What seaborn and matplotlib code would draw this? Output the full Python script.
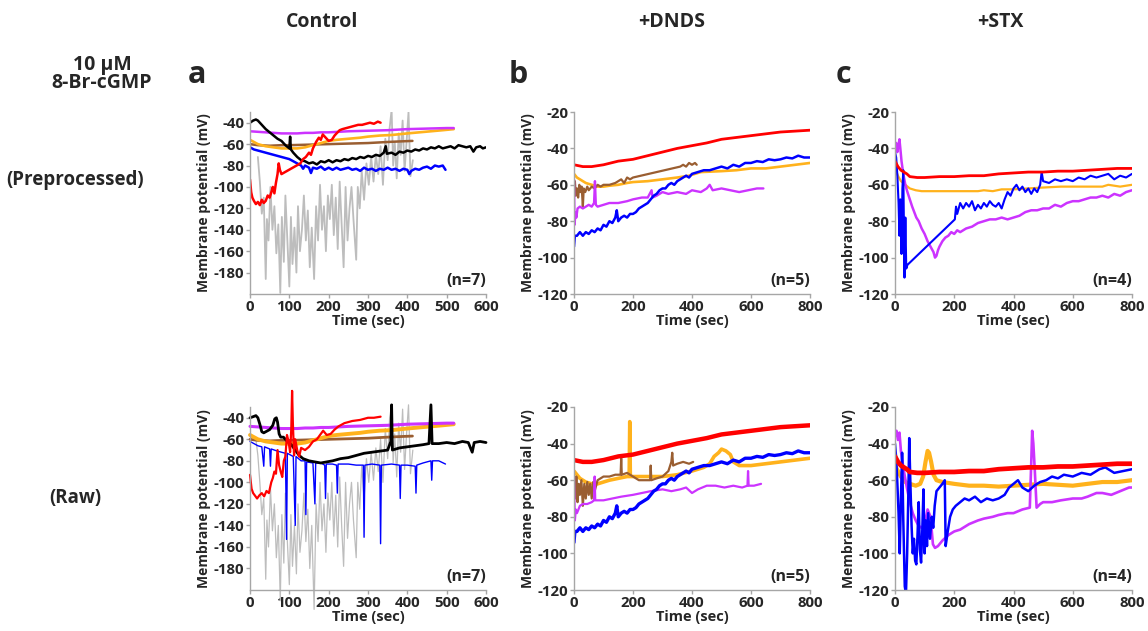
import numpy as np
import pandas as pd
import matplotlib
matplotlib.use("Agg")
import matplotlib.pyplot as plt
import seaborn as sns

sns.set_theme(style="white")
plt.rcParams['font.family'] = ['Open Sans', 'DejaVu Sans']
plt.rcParams['font.weight'] = 'bold'
plt.rcParams['axes.unicode_minus'] = False

# ---------------- data (time s, membrane potential mV) ----------------
# Panel a, preprocessed (Control)
A_GRAY = [(20,-72),(25,-95),(30,-125),(35,-110),(40,-186),(43,-130),(47,-150),(52,-100),(57,-140),(62,-118),(67,-162),(72,-135),(77,-199),(81,-128),(86,-170),(90,-108),(95,-150),(100,-193),(104,-128),(108,-172),(113,-138),(118,-180),(122,-118),(127,-160),(132,-140),(137,-108),(142,-150),(147,-122),(152,-175),(157,-138),(163,-186),(168,-118),(173,-150),(178,-98),(183,-140),(188,-118),(193,-160),(198,-108),(203,-130),(208,-98),(213,-145),(218,-110),(223,-158),(228,-95),(233,-135),(238,-175),(243,-100),(248,-150),(253,-120),(258,-100),(263,-130),(270,-168),(274,-100),(279,-120),(284,-85),(290,-112),(296,-78),(302,-98),(308,-72),(314,-95),(320,-70),(326,-88),(332,-62),(338,-98),(344,-55),(350,-75),(355,-45),(360,-28),(364,-80),(368,-58),(373,-92),(378,-50),(383,-70),(388,-38),(393,-85),(398,-58),(403,-30),(408,-90),(414,-75)]
A_BLACK = [(0,-40),(8,-38),(15,-37),(20,-38),(30,-42),(40,-46),(50,-49),(60,-52),(70,-55),(80,-57),(90,-61),(100,-64),(102,-53),(104,-65),(110,-68),(120,-72),(130,-75),(140,-76),(150,-78),(160,-77),(170,-79),(180,-76),(190,-77),(200,-75),(210,-77),(220,-75),(230,-76),(240,-74),(250,-75),(260,-73),(270,-74),(280,-72),(290,-73),(300,-71),(310,-72),(320,-70),(330,-71),(340,-68),(345,-62),(348,-69),(360,-68),(370,-70),(380,-67),(390,-68),(400,-66),(410,-67),(420,-65),(430,-66),(440,-64),(450,-65),(460,-63),(470,-64),(480,-62),(490,-64),(500,-63),(510,-62),(520,-64),(530,-61),(540,-62),(550,-63),(560,-62),(568,-67),(575,-63),(585,-62),(592,-64),(600,-63)]
A_MAGENTA = [(0,-48),(20,-48.5),(40,-49),(60,-49.5),(80,-50),(100,-50),(120,-50),(140,-49.5),(160,-49.5),(180,-49),(200,-49),(250,-48),(300,-47.5),(350,-47),(400,-46),(450,-45.5),(500,-45),(518,-45)]
A_ORANGE = [(0,-56),(10,-58),(20,-60),(30,-61),(40,-62),(60,-63),(80,-64),(100,-64),(120,-64),(140,-63),(160,-61),(180,-59),(200,-57),(220,-56),(250,-55),(280,-54),(300,-53),(330,-52),(360,-51.5),(400,-50),(430,-49),(460,-48),(490,-47),(518,-46)]
A_BROWN = [(0,-60),(20,-61),(50,-61.5),(80,-61),(100,-61),(150,-60.5),(200,-60),(250,-59.5),(300,-59),(350,-58),(380,-57.5),(413,-57)]
A_BLUE = [(0,-63),(10,-65),(20,-66),(30,-67),(40,-68),(50,-69),(60,-70),(70,-71),(80,-72),(90,-73),(100,-74),(110,-76),(120,-78),(130,-80),(135,-83),(140,-80),(150,-82),(155,-87),(160,-82),(170,-83),(180,-81),(190,-84),(200,-82),(210,-84),(220,-82),(230,-84),(240,-83),(250,-82),(260,-84),(270,-83),(280,-85),(290,-82),(300,-84),(310,-83),(320,-85),(330,-83),(340,-84),(350,-82),(360,-84),(370,-83),(380,-85),(390,-83),(400,-84),(405,-88),(410,-85),(420,-83),(430,-84),(440,-82),(450,-81),(460,-83),(470,-80),(480,-81),(490,-80),(497,-84)]
A_RED = [(0,-93),(3,-105),(6,-110),(10,-113),(15,-116),(20,-114),(25,-117),(30,-112),(35,-115),(40,-113),(45,-108),(50,-110),(55,-104),(58,-100),(62,-106),(66,-96),(70,-88),(73,-78),(76,-84),(80,-88),(128,-78),(135,-74),(142,-72),(150,-68),(155,-70),(160,-64),(168,-58),(175,-54),(180,-56),(185,-51),(190,-53),(195,-55),(200,-57),(208,-56),(215,-52),(220,-50),(228,-47),(235,-46),(245,-45),(255,-44),(265,-43),(275,-42),(285,-42),(295,-41),(305,-40),(315,-41),(325,-39),(332,-40)]

# Panel b, preprocessed (+DNDS)
B_RED = [(0,-49),(30,-50),(60,-50),(100,-49),(150,-47),(200,-46),(250,-44),(300,-42),(350,-40),(400,-38.5),(450,-37),(500,-35),(550,-34),(600,-33),(650,-32),(700,-31),(750,-30.5),(800,-30)]
B_BLUE = [(0,-94),(3,-88),(10,-88),(20,-86),(30,-88),(40,-86),(50,-87),(60,-85),(70,-86),(80,-84),(90,-85),(100,-82),(110,-83),(120,-80),(130,-81),(140,-78),(145,-74),(150,-80),(160,-78),(170,-77),(180,-78),(190,-76),(200,-76),(210,-75),(220,-73),(230,-72),(240,-71),(250,-70),(260,-68),(270,-66),(280,-65),(290,-63),(300,-62),(310,-62),(320,-60),(330,-59),(340,-60),(350,-58),(360,-57),(370,-56),(380,-55),(390,-56),(400,-54),(420,-53),(440,-52),(460,-52),(480,-51),(500,-50),(520,-51),(540,-49),(560,-50),(580,-48),(600,-48),(620,-47),(640,-47.5),(660,-46),(680,-46.5),(700,-46),(720,-45),(740,-45.5),(760,-44),(780,-45),(800,-45)]
B_ORANGE = [(0,-54),(10,-56),(20,-57),(40,-59),(60,-60),(80,-61),(100,-61),(120,-60.5),(150,-60),(180,-59),(200,-58.5),(250,-58),(300,-57),(350,-56),(390,-55),(430,-53),(500,-52.5),(550,-52),(600,-51),(650,-51),(700,-50),(750,-49),(800,-48)]
B_BROWN = [(0,-63),(3,-58),(6,-66),(10,-62),(14,-67),(18,-60),(22,-64),(26,-61),(30,-72),(33,-62),(38,-64),(45,-61),(50,-63),(60,-61),(70,-62),(80,-60),(90,-61),(100,-60),(120,-60),(140,-59),(160,-57),(170,-59),(180,-56),(190,-57),(200,-56),(360,-50),(370,-49),(380,-50),(390,-48),(400,-49),(410,-48),(416,-49)]
B_MAGENTA = [(0,-57),(2,-82),(5,-75),(8,-78),(12,-73),(20,-72),(30,-73),(40,-72),(50,-71),(60,-72),(68,-70),(71,-58),(74,-71),(80,-72),(100,-71),(120,-70),(150,-70),(180,-69),(200,-68),(230,-67),(250,-67),(263,-63),(266,-67),(280,-66),(300,-64),(320,-65),(350,-64),(380,-65),(400,-63),(430,-64),(450,-62),(460,-60),(470,-63),(500,-62),(530,-63),(560,-64),(590,-63),(620,-62),(642,-62)]

# Panel c, preprocessed (+STX)
C_RED = [(0,-47),(10,-50),(20,-52),(30,-53),(40,-54),(50,-55.5),(75,-56),(100,-56),(150,-55.5),(200,-55.5),(250,-55),(300,-55),(350,-54),(400,-53.5),(450,-53),(500,-53),(550,-52.5),(600,-52.5),(650,-52),(700,-51.5),(750,-51),(800,-51)]
C_ORANGE = [(0,-51),(10,-55),(20,-58),(35,-60),(50,-62),(70,-63),(90,-63.5),(200,-63.5),(280,-63.5),(300,-63),(330,-63.5),(360,-62.5),(400,-62.5),(450,-62),(500,-61.5),(560,-61),(700,-61),(720,-60),(760,-61),(800,-60)]
C_MAGENTA = [(0,-40),(4,-37),(8,-42),(12,-38),(15,-35),(18,-40),(22,-47),(28,-54),(35,-60),(42,-64),(50,-68),(58,-72),(65,-75),(72,-78),(80,-80),(90,-84),(100,-87),(110,-91),(120,-94),(130,-97),(135,-100),(140,-99),(145,-96),(150,-94),(160,-91),(170,-89),(180,-88),(190,-86),(200,-87),(210,-85),(220,-86),(240,-84),(260,-83),(280,-81),(300,-80),(320,-79),(340,-79),(360,-78),(380,-79),(400,-78),(420,-77),(440,-75),(460,-74),(480,-74),(500,-73),(520,-73),(540,-71),(560,-72),(580,-70),(600,-69),(620,-69),(640,-68),(660,-67),(680,-67),(700,-66),(720,-67),(740,-65),(760,-66),(780,-64),(800,-63)]
C_BLUE = [(0,-42),(4,-45),(8,-55),(12,-70),(15,-88),(18,-68),(22,-98),(25,-62),(28,-52),(32,-111),(35,-78),(38,-106),(42,-104),(202,-79),(206,-72),(210,-76),(220,-70),(230,-73),(240,-70),(250,-72),(260,-69),(270,-74),(280,-71),(290,-73),(300,-70),(310,-72),(320,-69),(330,-71),(340,-72),(350,-70),(360,-73),(370,-68),(380,-64),(390,-66),(400,-62),(410,-60),(420,-63),(430,-61),(440,-64),(450,-62),(460,-65),(470,-62),(480,-64),(490,-60),(495,-53),(500,-58),(520,-59),(540,-57),(560,-58),(580,-57),(600,-58),(620,-56),(640,-57),(660,-55),(680,-56),(700,-55),(720,-54),(740,-57),(760,-55),(780,-56),(800,-54)]

# Raw recordings (bottom row), where they differ from the preprocessed traces
RA_GRAY = [(15,-60),(20,-75),(25,-100),(30,-130),(35,-115),(40,-190),(43,-135),(47,-160),(52,-105),(57,-145),(62,-120),(67,-170),(72,-140),(77,-210),(81,-130),(86,-175),(90,-110),(95,-155),(100,-195),(104,-130),(108,-178),(113,-140),(118,-185),(122,-120),(127,-165),(132,-145),(137,-110),(142,-155),(147,-125),(152,-180),(157,-140),(163,-218),(168,-120),(173,-155),(178,-100),(183,-145),(188,-120),(193,-165),(198,-110),(203,-135),(208,-100),(213,-150),(218,-112),(223,-160),(228,-95),(233,-140),(238,-178),(243,-100),(248,-152),(253,-120),(258,-100),(263,-135),(270,-170),(274,-100),(279,-125),(284,-85),(290,-115),(296,-78),(302,-100),(308,-72),(314,-98),(320,-68),(326,-90),(332,-60),(338,-100),(344,-50),(350,-78),(355,-40),(360,-28),(364,-82),(368,-55),(373,-95),(378,-45),(383,-72),(388,-32),(393,-88),(398,-55),(403,-28),(408,-92),(414,-70)]
RA_RED = [(0,-93),(4,-106),(8,-110),(12,-112),(18,-115),(24,-112),(30,-110),(36,-113),(42,-108),(48,-110),(54,-100),(58,-96),(62,-90),(66,-92),(70,-70),(74,-84),(78,-90),(82,-95),(86,-80),(90,-76),(94,-56),(98,-62),(102,-72),(105,-50),(107,-15),(109,-45),(112,-75),(115,-60),(120,-70),(125,-76),(130,-68),(140,-70),(150,-67),(160,-62),(170,-60),(180,-55),(186,-52),(195,-56),(205,-55),(215,-51),(225,-48),(240,-45),(260,-43),(280,-42),(300,-40),(315,-40),(332,-39)]
RA_BLACK = [(0,-40),(8,-39),(15,-38),(20,-40),(25,-46),(30,-53),(35,-54),(40,-53),(50,-51),(58,-47),(63,-41),(67,-40),(70,-44),(74,-55),(78,-58),(85,-58),(95,-62),(105,-65),(115,-70),(125,-75),(135,-78),(150,-80),(165,-81),(180,-82),(195,-81),(210,-80),(230,-78),(250,-77),(270,-75),(290,-73),(310,-72),(330,-71),(350,-70),(358,-62),(360,-28),(362,-70),(380,-68),(400,-67),(420,-66),(440,-65),(455,-64),(460,-28),(463,-64),(480,-64),(500,-63),(520,-64),(540,-62),(555,-63),(565,-72),(570,-63),(585,-62),(600,-63)]
RA_BLUE = [(0,-62),(10,-64),(20,-66),(30,-67),(35,-85),(37,-67),(50,-69),(52,-85),(54,-69),(70,-71),(90,-73),(93,-153),(95,-73),(110,-76),(115,-140),(117,-76),(130,-80),(140,-80),(142,-130),(144,-81),(160,-82),(165,-120),(167,-82),(180,-82),(190,-84),(192,-115),(194,-83),(210,-83),(220,-84),(222,-110),(224,-83),(250,-83),(270,-84),(288,-84),(290,-151),(292,-84),(310,-83),(330,-84),(332,-157),(334,-84),(360,-83),(380,-84),(382,-115),(384,-84),(400,-84),(420,-85),(422,-110),(424,-84),(440,-82),(460,-80),(462,-98),(464,-80),(480,-80),(497,-83)]
RB_ORANGE = [(0,-55),(10,-57),(20,-59),(40,-61),(60,-62),(80,-62),(100,-61),(120,-60),(150,-59),(180,-58),(187,-58),(189,-28),(191,-58),(200,-58),(250,-58),(300,-58),(350,-57),(400,-55),(440,-53),(460,-51),(475,-47),(490,-45),(500,-43),(515,-44),(530,-46),(540,-50),(560,-52),(600,-52),(650,-51),(700,-50),(750,-49),(800,-48)]
RB_BROWN = [(0,-62),(4,-70),(8,-58),(12,-72),(16,-62),(20,-68),(25,-60),(30,-74),(35,-62),(40,-70),(45,-61),(50,-68),(55,-62),(60,-70),(65,-61),(70,-66),(80,-60),(90,-59),(100,-58),(120,-58),(140,-57),(158,-57),(160,-48),(162,-57),(180,-56),(200,-58),(220,-60),(240,-60),(258,-60),(260,-52),(262,-60),(280,-59),(300,-58),(320,-55),(330,-50),(333,-45),(336,-52),(350,-51),(370,-50),(390,-51),(404,-50)]
RB_MAGENTA = [(0,-58),(3,-82),(6,-76),(10,-78),(20,-74),(30,-73),(45,-73),(60,-72),(68,-71),(70,-58),(72,-71),(100,-71),(130,-70),(160,-69),(200,-68),(230,-67),(260,-66),(300,-65),(330,-66),(360,-65),(380,-64),(400,-67),(420,-65),(450,-63),(480,-63),(510,-64),(540,-63),(570,-64),(588,-63),(590,-55),(592,-63),(610,-63),(634,-62)]
RC_ORANGE = [(0,-52),(10,-55),(20,-58),(35,-61),(50,-62),(70,-63),(85,-62),(95,-58),(103,-50),(110,-44),(115,-45),(122,-50),(130,-57),(140,-60),(160,-61),(200,-62),(250,-63),(300,-63),(350,-63.5),(400,-63),(450,-62.5),(500,-62),(550,-62.5),(600,-63),(650,-62),(700,-61),(750,-61),(800,-60)]
RC_MAGENTA = [(0,-36),(5,-33),(10,-38),(15,-34),(20,-44),(30,-55),(40,-64),(50,-72),(60,-78),(70,-82),(80,-85),(90,-86),(100,-84),(110,-76),(120,-80),(128,-95),(135,-97),(145,-96),(160,-93),(180,-90),(200,-88),(220,-87),(250,-84),(280,-82),(300,-81),(330,-80),(350,-79),(380,-78),(400,-78),(430,-76),(455,-75),(460,-50),(463,-33),(467,-40),(472,-55),(478,-75),(490,-73),(500,-72),(530,-72),(560,-71),(600,-70),(630,-70),(650,-69),(680,-67),(700,-67),(730,-68),(760,-66),(790,-64),(800,-64)]
RC_BLUE = [(0,-40),(4,-48),(8,-62),(12,-78),(16,-100),(20,-70),(24,-45),(28,-82),(33,-118),(37,-122),(41,-100),(45,-68),(48,-37),(52,-62),(56,-85),(60,-100),(64,-92),(68,-104),(72,-106),(76,-90),(80,-72),(84,-98),(88,-105),(92,-88),(96,-65),(100,-100),(104,-82),(108,-96),(112,-78),(118,-92),(124,-80),(129,-86),(134,-74),(140,-66),(150,-64),(160,-62),(168,-60),(171,-96),(178,-88),(186,-80),(195,-76),(205,-74),(220,-72),(235,-70),(250,-71),(270,-69),(290,-72),(310,-70),(330,-71),(350,-70),(370,-68),(385,-64),(400,-62),(415,-60),(430,-64),(450,-66),(470,-63),(490,-61),(510,-60),(530,-58),(550,-59),(570,-57),(600,-58),(630,-56),(660,-57),(690,-54),(710,-53),(740,-56),(770,-55),(800,-54)]

COLUMN_TITLES = ["Control", "+DNDS", "+STX"]
PANEL_LETTERS = ["a", "b", "c"]
N_LABELS = ["(n=7)", "(n=5)", "(n=4)"]
ROW_LABELS = ["(Preprocessed)", "(Raw)"]

# ---------------- styling ----------------
RED, BLUE, BLACK = "#ff0000", "#0000ff", "#000000"
MAG, ORG, BRN, GRY = "#cc33ff", "#ffb21c", "#9a5e31", "#bdbdbd"
SPINE = "#a6a6a6"

W, H = 1148, 631
fig = plt.figure(figsize=(W / 100, H / 100), dpi=100)

def ax_at(l, t, r, b):
    return fig.add_axes([l / W, 1 - b / H, (r - l) / W, (b - t) / H])

cols = [(250, 486), (574, 810), (895, 1132)]
rows = [(112, 294), (407, 590)]

def draw(ax, traces, xmax, xstep, ylim, yticks, nlab, clip=True):
    for pts, color, lw in traces:
        df = pd.DataFrame(pts, columns=["t", "v"])
        sns.lineplot(data=df, x="t", y="v", ax=ax, color=color, lw=lw,
                     sort=False, estimator=None, legend=False)
    if not clip:
        for ln in ax.lines:
            ln.set_clip_on(False)
    ax.set_xlim(0, xmax)
    ax.set_ylim(*ylim)
    ax.set_xticks(np.arange(0, xmax + 1, xstep))
    ax.set_yticks(yticks)
    ax.set_xlabel("Time (sec)", fontsize=10.5, fontweight="bold", labelpad=0)
    ax.set_ylabel("Membrane potential (mV)", fontsize=10, fontweight="bold", labelpad=2)
    for s in ["top", "right"]:
        ax.spines[s].set_visible(False)
    for s in ["left", "bottom"]:
        ax.spines[s].set_color(SPINE)
        ax.spines[s].set_linewidth(1.0)
    ax.tick_params(axis="both", which="major", direction="out", length=3, width=1,
                   color=SPINE, labelsize=10.8, pad=1, bottom=True, left=True)
    for lab in ax.get_xticklabels() + ax.get_yticklabels():
        lab.set_fontweight("bold")
    ax.text(1.0, 0.07, nlab, transform=ax.transAxes, ha="right", va="center",
            fontsize=11.5, fontweight="bold")
    ax.patch.set_alpha(0)

ya = (-200, -30)
yta = np.arange(-180, -39, 20)
ybc = (-120, -20)
ytbc = np.arange(-120, -19, 20)

# top row
ax = ax_at(cols[0][0], rows[0][0], cols[0][1], rows[0][1])
draw(ax, [(A_GRAY, GRY, 1.3), (A_BLUE, BLUE, 1.8), (A_BROWN, BRN, 1.8), (A_ORANGE, ORG, 1.9),
          (A_MAGENTA, MAG, 1.8), (A_BLACK, BLACK, 1.8), (A_RED, RED, 1.8)],
     600, 100, ya, yta, N_LABELS[0])
ax = ax_at(cols[1][0], rows[0][0], cols[1][1], rows[0][1])
draw(ax, [(B_ORANGE, ORG, 1.9), (B_BROWN, BRN, 1.6), (B_MAGENTA, MAG, 1.7), (B_BLUE, BLUE, 1.8),
          (B_RED, RED, 2.0)],
     800, 200, ybc, ytbc, N_LABELS[1])
ax = ax_at(cols[2][0], rows[0][0], cols[2][1], rows[0][1])
draw(ax, [(C_ORANGE, ORG, 1.6), (C_MAGENTA, MAG, 1.8), (C_BLUE, BLUE, 1.5), (C_RED, RED, 2.0)],
     800, 200, ybc, ytbc, N_LABELS[2])

# bottom row
ax = ax_at(cols[0][0], rows[1][0], cols[0][1], rows[1][1])
draw(ax, [(RA_GRAY, GRY, 0.9), (RA_BLUE, BLUE, 1.0), (A_BROWN, BRN, 2.0), (A_ORANGE, ORG, 2.8),
          (A_MAGENTA, MAG, 2.2), (RA_BLACK, BLACK, 2.0), (RA_RED, RED, 1.6)],
     600, 100, ya, yta, N_LABELS[0], clip=False)
ax = ax_at(cols[1][0], rows[1][0], cols[1][1], rows[1][1])
draw(ax, [(RB_ORANGE, ORG, 2.6), (RB_BROWN, BRN, 1.6), (RB_MAGENTA, MAG, 1.6), (B_BLUE, BLUE, 2.4),
          (B_RED, RED, 3.2)],
     800, 200, ybc, ytbc, N_LABELS[1])
ax = ax_at(cols[2][0], rows[1][0], cols[2][1], rows[1][1])
draw(ax, [(RC_ORANGE, ORG, 3.0), (RC_MAGENTA, MAG, 1.9), (RC_BLUE, BLUE, 1.8), (C_RED, RED, 3.4)],
     800, 200, ybc, ytbc, N_LABELS[2])

# figure texts
for x, t in zip([322, 672, 1000], COLUMN_TITLES):
    fig.text(x / W, 1 - 22 / H, t, ha="center", va="center", fontsize=14, fontweight="bold")
for x, t in zip([197, 518, 843], PANEL_LETTERS):
    fig.text(x / W, 1 - 75 / H, t, ha="center", va="center", fontsize=22, fontweight="bold")
fig.text(102 / W, 1 - 65 / H, "10 \u03bcM", ha="center", va="center", fontsize=14, fontweight="bold")
fig.text(102 / W, 1 - 83 / H, "8-Br-cGMP", ha="center", va="center", fontsize=14, fontweight="bold")
fig.text(75 / W, 1 - 180 / H, ROW_LABELS[0], ha="center", va="center", fontsize=13.5, fontweight="bold")
fig.text(75 / W, 1 - 498 / H, ROW_LABELS[1], ha="center", va="center", fontsize=13.5, fontweight="bold")

fig.savefig("out.png", dpi=100, facecolor="white")
